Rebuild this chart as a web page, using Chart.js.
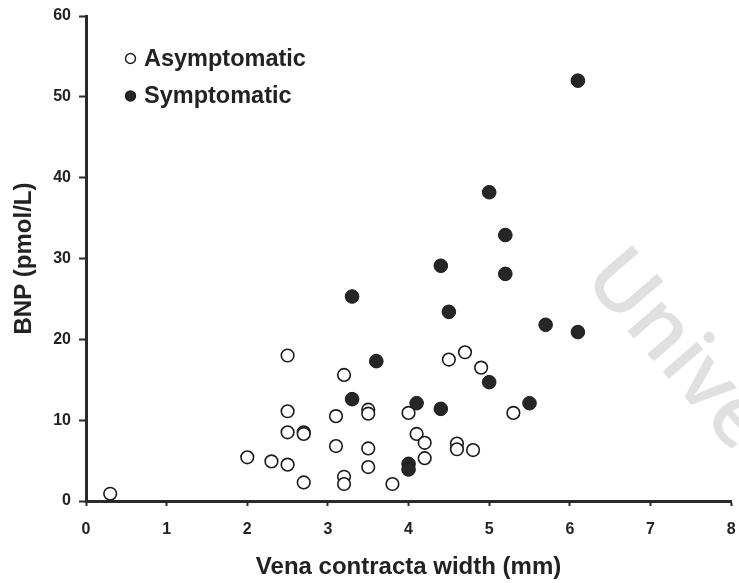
<!DOCTYPE html>
<html>
<head>
<meta charset="utf-8">
<script src="https://cdn.jsdelivr.net/npm/chart.js@4"></script>
<style>
html,body{margin:0;padding:0;background:#fff;}
#wrap{width:739px;height:583px;position:relative;}
</style>
</head>
<body>
<div id="wrap"><canvas id="c" width="739" height="583"></canvas></div>
<script>
// ---- data ----
const asymX = [0.3, 2.0, 2.3, 2.5, 2.5, 2.5, 2.5, 2.7, 2.7, 2.7, 3.1, 3.1, 3.2, 3.2, 3.2, 3.5, 3.5, 3.5, 3.5, 3.8, 4.0, 4.1, 4.2, 4.2, 4.5, 4.6, 4.6, 4.7, 4.8, 4.9, 5.3];
const asymY = [0.9, 5.4, 4.9, 4.5, 18.0, 11.1, 8.5, 8.5, 8.3, 2.3, 10.5, 6.8, 15.6, 3.0, 2.1, 11.3, 10.8, 6.5, 4.2, 2.1, 10.9, 8.3, 7.2, 5.3, 17.5, 7.1, 6.4, 18.4, 6.3, 16.5, 10.9];
const symX = [6.1, 5.0, 5.2, 4.4, 5.2, 3.3, 4.5, 5.7, 6.1, 3.6, 5.0, 4.1, 4.4, 5.5, 4.0, 4.0, 3.3];
const symY = [52.0, 38.2, 32.9, 29.1, 28.1, 25.3, 23.4, 21.8, 20.9, 17.3, 14.7, 12.1, 11.4, 12.1, 4.6, 3.9, 12.6];
const seriesNames = ['Asymptomatic', 'Symptomatic'];
const xTicks = [0, 1, 2, 3, 4, 5, 6, 7, 8];
const yTicks = [0, 10, 20, 30, 40, 50, 60];
const xTitle = 'Vena contracta width (mm)';
const yTitle = 'BNP (pmol/L)';
const watermark = 'University';

const toPts = (xs, ys) => xs.map((x, i) => ({x: x, y: ys[i]}));
const INK = '#222';
const FONT = '"Liberation Sans", Arial, sans-serif';

const legendPlugin = {
  id: 'insideLegend',
  afterDatasetsDraw(chart) {
    const ctx = chart.ctx;
    const rows = [{y: 58.5}, {y: 96}];
    ctx.save();
    chart.data.datasets.forEach((ds) => {
      const idx = seriesNames.indexOf(ds.label);
      const y = rows[idx].y;
      ctx.beginPath();
      ctx.arc(130.5, y, 5, 0, Math.PI * 2);
      ctx.fillStyle = ds.backgroundColor;
      ctx.fill();
      ctx.lineWidth = 1.4;
      ctx.strokeStyle = ds.borderColor;
      ctx.stroke();
      ctx.fillStyle = INK;
      ctx.font = 'bold 23.5px ' + FONT;
      ctx.textBaseline = 'middle';
      ctx.textAlign = 'left';
      ctx.fillText(ds.label, 144, y + 1);
    });
    ctx.restore();
  }
};

const watermarkPlugin = {
  id: 'watermark',
  beforeDatasetsDraw(chart) {
    const ctx = chart.ctx;
    ctx.save();
    ctx.translate(582, 279);
    ctx.rotate(49 * Math.PI / 180);
    ctx.font = '600 84px "Open Sans", sans-serif';
    ctx.fillStyle = '#e0e0e0';
    ctx.textBaseline = 'alphabetic';
    ctx.textAlign = 'left';
    ctx.fillText(watermark, 0, 0);
    ctx.restore();
  }
};

new Chart(document.getElementById('c'), {
  type: 'scatter',
  data: {
    datasets: [
      {
        label: seriesNames[1],
        data: toPts(symX, symY),
        backgroundColor: '#262626',
        borderColor: '#1a1a1a',
        borderWidth: 1,
        pointRadius: 6.8,
        order: 0
      },
      {
        label: seriesNames[0],
        data: toPts(asymX, asymY),
        backgroundColor: '#ffffff',
        borderColor: '#1a1a1a',
        borderWidth: 1.6,
        pointRadius: 6.3,
        order: 1
      }
    ]
  },
  options: {
    responsive: false,
    animation: false,
    events: [],
    layout: {padding: {left: 0, right: 7, top: 16, bottom: 0}},
    plugins: {legend: {display: false}, tooltip: {enabled: false}},
    scales: {
      x: {
        type: 'linear',
        min: 0, max: 8,
        afterFit(s) { s.height = 82; s.paddingLeft = 0; s.paddingRight = 0; },
        afterBuildTicks(s) { s.ticks = xTicks.map(v => ({value: v})); },
        border: {display: true, color: '#2a2a2a', width: 3},
        grid: {display: true, drawOnChartArea: false, drawTicks: true, tickLength: 5, tickWidth: 2, tickColor: '#2a2a2a'},
        ticks: {color: INK, padding: 14, font: {family: FONT, size: 16, weight: 'bold'}},
        title: {display: true, text: xTitle, color: INK, padding: {top: 0, bottom: 1}, font: {family: FONT, size: 24, weight: 'bold'}}
      },
      y: {
        type: 'linear',
        min: 0, max: 60,
        afterFit(s) { s.width = 86; s.paddingTop = 0; s.paddingBottom = 0; },
        afterBuildTicks(s) { s.ticks = yTicks.map(v => ({value: v})); },
        border: {display: true, color: '#2a2a2a', width: 3},
        grid: {display: true, drawOnChartArea: false, drawTicks: true, tickLength: 7, tickWidth: 2, tickColor: '#2a2a2a'},
        ticks: {color: INK, padding: 8, font: {family: FONT, size: 16, weight: 'bold'}},
        title: {display: true, text: yTitle, color: INK, padding: {top: 10, bottom: 0}, font: {family: FONT, size: 24, weight: 'bold'}}
      }
    }
  },
  plugins: [watermarkPlugin, legendPlugin]
});
</script>
</body>
</html>
